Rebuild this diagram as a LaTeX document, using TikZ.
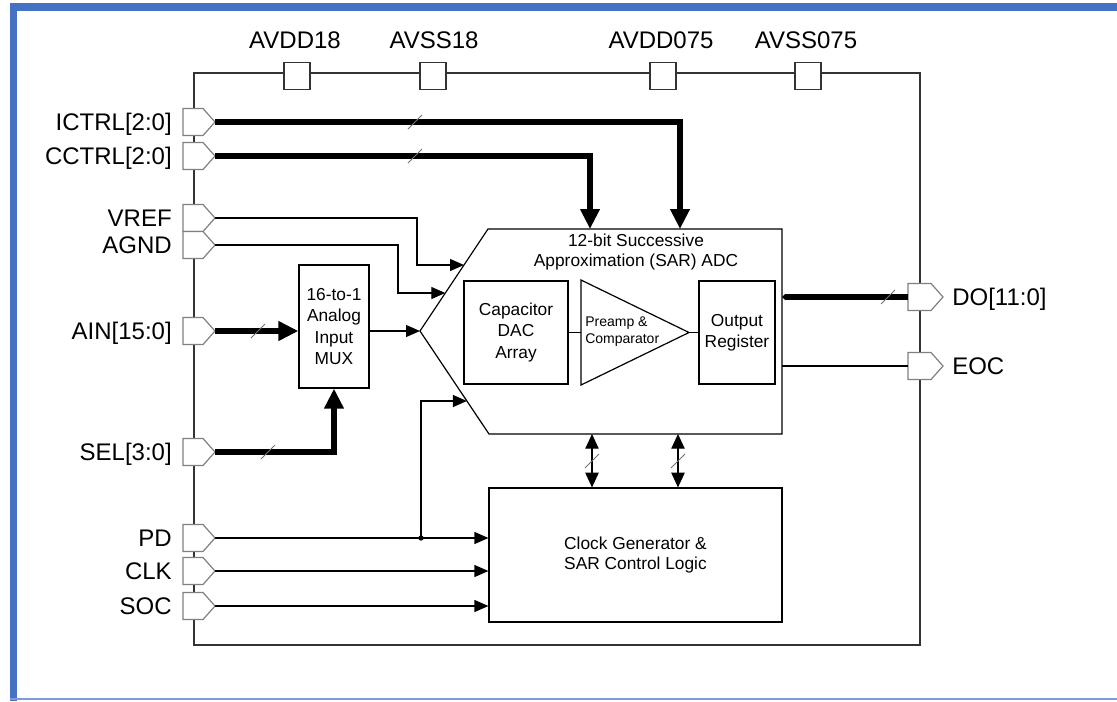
\documentclass[tikz,border=0pt]{standalone}
\usepackage{fontspec}
\setmainfont{Liberation Sans}
\usetikzlibrary{arrows.meta,calc}
\definecolor{frameblue}{HTML}{4472C4}
\newcommand\mkLpin[2]{\draw[pinshape] (183,#2-13.5) -- (203,#2-13.5) -- (215,#2) -- (203,#2+13.5) -- (183,#2+13.5) -- cycle; \coordinate (#1) at (215,#2);}
\newcommand\mkRpin[2]{\draw[pinshape] (908,#2-13.5) -- (931,#2-13.5) -- (943,#2) -- (931,#2+13.5) -- (908,#2+13.5) -- cycle; \coordinate (#1) at (908,#2);}
\newcommand\busslash[2]{\draw[slash] (#1-7,#2+7) -- (#1+7,#2-7);}
\begin{document}
\begin{tikzpicture}[x=0.75pt,y=-0.75pt,
  chip/.style={draw=black!80,line width=1.1pt},
  blk/.style={draw=black,line width=0.9pt},
  pinshape/.style={draw=black!50,fill=white,line width=0.9pt},
  sig/.style={draw=black,line width=0.9pt,-{Triangle[length=10.5pt,width=9pt]}},
  bus/.style={draw=black,line width=4.5pt},
  busarr/.style={bus,-{Triangle[length=15pt,width=14pt]}},
  bidir/.style={draw=black,line width=0.9pt,{Triangle[length=11pt,width=10pt]}-{Triangle[length=11pt,width=10pt]}},
  slash/.style={draw=black!55,line width=0.7pt},
  pinlbl/.style={font=\fontsize{18}{20}\selectfont,inner sep=0pt},
  blklbl/.style={font=\fontsize{13}{16}\selectfont,align=center,inner sep=0pt},
  box/.style={blk,fill=white,inner sep=0pt},
  pad/.style={draw=black!80,fill=white,line width=1.1pt,minimum width=19.5pt,minimum height=20.25pt,inner sep=0pt},
]
\fill[white] (0,0) rectangle (1117,701);
\useasboundingbox (0,0) rectangle (1117,701);
% blue frame
\fill[frameblue] (10,3) rectangle (1117,11);
\fill[frameblue] (10,3) rectangle (17,701);
\draw[frameblue!70,line width=1.2pt] (10,699) -- (1117,699);

% chip outline
\draw[chip] (194,73) rectangle (920,645);

% top pads
\node[pad] (p1) at (297,76) {};
\node[pad] (p2) at (433,76) {};
\node[pad] (p3) at (663,76) {};
\node[pad] (p4) at (808,76) {};
\node[pinlbl,anchor=base] (l1) at (295,48) {AVDD18};
\node[pinlbl,anchor=base] (l2) at (434,48) {AVSS18};
\node[pinlbl,anchor=base] (l3) at (661,48) {AVDD075};
\node[pinlbl,anchor=base] (l4) at (806,48) {AVSS075};

% left pins
\mkLpin{ictrl}{122}
\mkLpin{cctrl}{156}
\mkLpin{vref}{218}
\mkLpin{agnd}{245}
\mkLpin{ain}{331}
\mkLpin{sel}{452}
\mkLpin{pd}{538}
\mkLpin{clkp}{571}
\mkLpin{soc}{606}
\node[pinlbl,anchor=base east] (tictrl) at (172,130.5) {ICTRL[2:0]};
\node[pinlbl,anchor=base east] (tcctrl) at (172,164.5) {CCTRL[2:0]};
\node[pinlbl,anchor=base east] (tvref) at (172,226.5) {VREF};
\node[pinlbl,anchor=base east] (tagnd) at (172,253.5) {AGND};
\node[pinlbl,anchor=base east] (tain) at (172,339.5) {AIN[15:0]};
\node[pinlbl,anchor=base east] (tsel) at (172,460.5) {SEL[3:0]};
\node[pinlbl,anchor=base east] (tpd) at (172,546.5) {PD};
\node[pinlbl,anchor=base east] (tclk) at (172,579.5) {CLK};
\node[pinlbl,anchor=base east] (tsoc) at (172,614.5) {SOC};

% right pins
\mkRpin{do}{297}
\mkRpin{eoc}{366}
\node[pinlbl,anchor=base west] (tdo) at (952,305.5) {DO[11:0]};
\node[pinlbl,anchor=base west] (teoc) at (952,374.5) {EOC};

% ADC block
\coordinate (adcTL) at (488,229);
\coordinate (adcTR) at (782,229);
\coordinate (adcBR) at (782,434);
\coordinate (adcBL) at (489,434);
\coordinate (adcTip) at (420,331);
\draw[blk] (adcTL) -- (adcTR) -- (adcBR) -- (adcBL) -- (adcTip) -- cycle;
\node[blklbl,font=\fontsize{13}{14.3}\selectfont] (adctitle) at (636,252) {12-bit Successive\\Approximation (SAR) ADC};

\node[box,minimum width=78pt,minimum height=77.25pt,blklbl] (dac) at (516,332.5) {Capacitor\\DAC\\Array};
\node[box,minimum width=57pt,minimum height=77.25pt,blklbl] (outreg) at (737,332.5) {Output\\Register};
\coordinate (ampIn) at (581,332.5);
\coordinate (ampOut) at (689,332.5);
\draw[blk] (581,280) -- (ampOut) -- (581,385) -- cycle;
\node[font=\fontsize{10.5}{12.8}\selectfont,align=left,anchor=west,inner sep=0pt] (amptxt) at (585,331.5) {Preamp \&\\Comparator};
\draw[blk] (dac.east) -- (ampIn);
\draw[blk] (ampOut) -- (outreg.west);

% MUX
\node[box,minimum width=52.5pt,minimum height=92.25pt,blklbl,font=\fontsize{13}{15.8}\selectfont] (mux) at (334,326.5) {16-to-1\\Analog\\Input\\MUX};

% Clock generator
\node[box,minimum width=219.75pt,minimum height=100.5pt,blklbl,font=\fontsize{13}{14.3}\selectfont] (cgen) at (635.5,555) {Clock Generator \&\\SAR Control Logic};

% ADC entry points
\coordinate (adcIn1) at (680,229);
\coordinate (adcIn2) at (590,229);
\coordinate (vrefIn) at (464,265);
\coordinate (agndIn) at (445.3,293);
\coordinate (pdIn) at (466.9,401);
\coordinate (adcB1) at (592,434);
\coordinate (adcB2) at (678,434);
\coordinate (pdj) at (421,538);

% buses
\draw[busarr] (ictrl) -| (adcIn1);
\draw[busarr] (cctrl) -| (adcIn2);
\draw[busarr] (ain) -- (mux.west |- ain);
\draw[busarr] (sel) -| (mux.south);
\draw[bus,{Triangle[length=2.5pt,width=4.5pt]}-] (adcTR |- do) -- (do);

% thin signals
\draw[sig] (vref) -| (417,265) -- (vrefIn);
\draw[sig] (agnd) -| (398,293) -- (agndIn);
\draw[sig] (mux.east |- adcTip) -- (adcTip);
\draw[sig] (pd) -- (cgen.west |- pd);
\fill (pdj) circle[radius=2pt];
\draw[sig] (pdj) |- (pdIn);
\draw[sig] (clkp) -- (cgen.west |- clkp);
\draw[sig] (soc) -- (cgen.west |- soc);
\draw[blk] (adcTR |- eoc) -- (eoc);
\draw[bidir] (adcB1) -- (adcB1 |- cgen.north);
\draw[bidir] (adcB2) -- (adcB2 |- cgen.north);

% bus slashes
\busslash{415}{122}
\busslash{415}{156}
\busslash{258}{331}
\busslash{268}{452}
\busslash{888}{297}
\busslash{592}{461}
\busslash{678}{461}
\end{tikzpicture}
\end{document}
